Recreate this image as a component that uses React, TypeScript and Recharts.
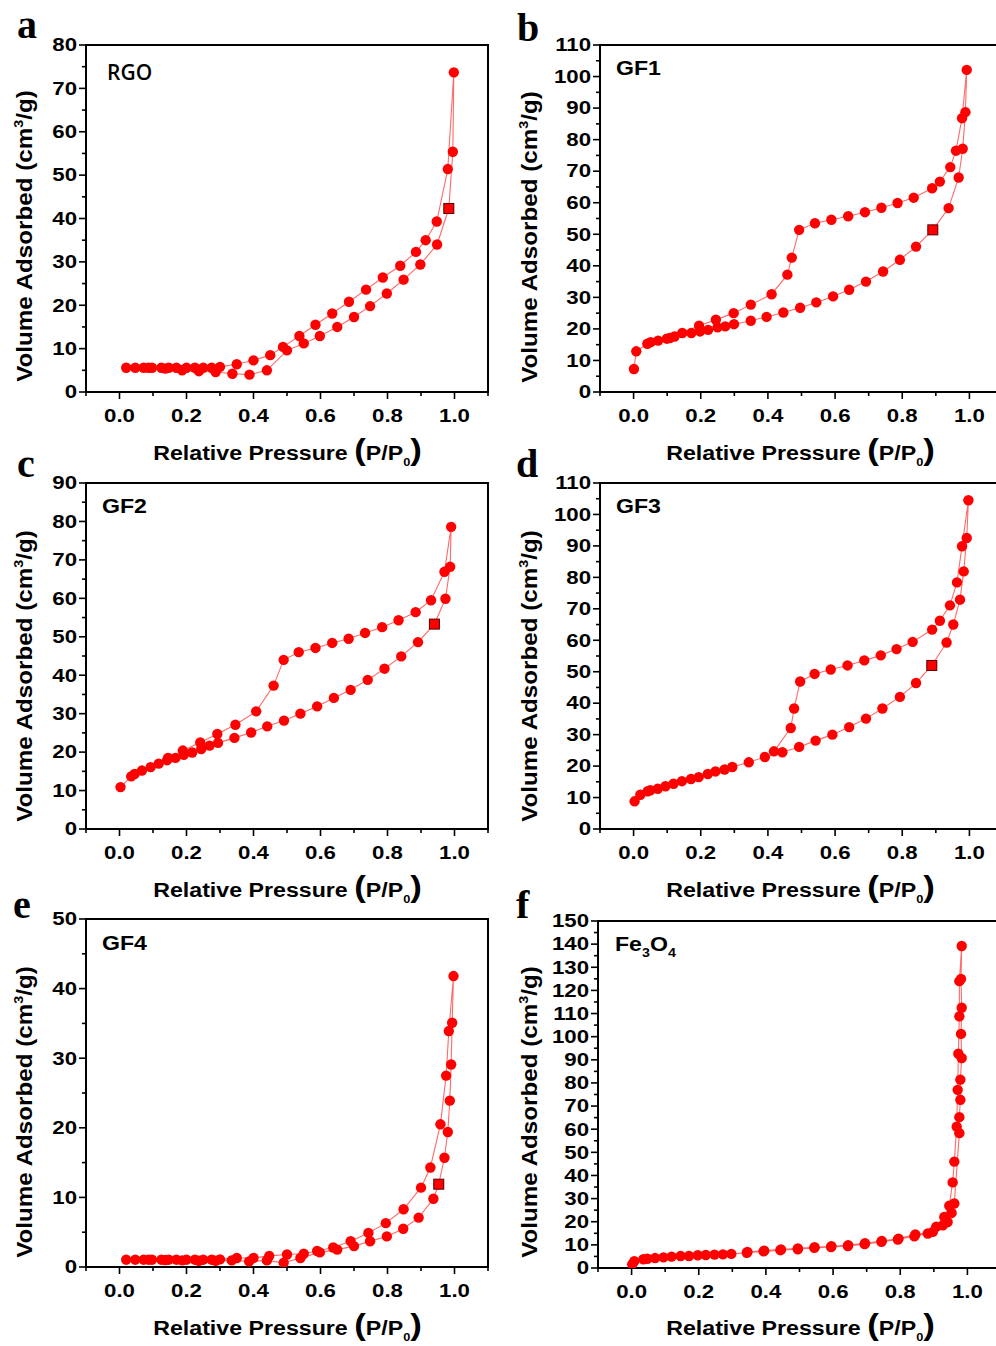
import React from 'react';
import { ScatterChart, Scatter, XAxis, YAxis, ReferenceArea } from 'recharts';

const SANS = '"Liberation Sans", Arial, Helvetica, sans-serif';
const SERIF = '"Liberation Serif", "Times New Roman", serif';
const MARKER = '#ff0000';
const LINE = '#ff6a6a';

type P = [number, number];

// ---------- data: [relative pressure, volume adsorbed] ----------
const rgoAdsorption: P[] = [
  [0.020, 5.6], [0.047, 5.6], [0.072, 5.6], [0.097, 5.6], [0.125, 5.6], [0.147, 5.6], [0.170, 5.6],
  [0.200, 5.6], [0.225, 5.6], [0.250, 5.6], [0.275, 5.6], [0.300, 5.8], [0.350, 6.4], [0.400, 7.3],
  [0.450, 8.5], [0.488, 10.4], [0.537, 12.9], [0.585, 15.5], [0.635, 18.1], [0.685, 20.8], [0.736, 23.6],
  [0.786, 26.4], [0.838, 29.1], [0.885, 32.3], [0.914, 35.0], [0.947, 39.3], [0.980, 51.4], [0.998, 73.7],
];
const rgoDesorption: P[] = [
  [0.995, 55.4], [0.983, 42.3], [0.948, 34.0], [0.898, 29.4], [0.848, 25.9], [0.798, 22.7], [0.748, 19.8],
  [0.700, 17.3], [0.650, 15.0], [0.598, 12.9], [0.550, 11.2], [0.500, 9.6], [0.440, 5.0], [0.388, 4.0],
  [0.337, 4.2], [0.287, 4.6], [0.237, 4.8], [0.187, 5.0], [0.137, 5.4], [0.087, 5.6],
];
const rgoSquare: P[] = [[0.983, 42.3]];

const gf1Adsorption: P[] = [
  [0.001, 7.3], [0.008, 12.9], [0.041, 15.3], [0.051, 15.8], [0.073, 16.3], [0.099, 16.9], [0.122, 17.6],
  [0.145, 18.7], [0.172, 18.7], [0.198, 19.2], [0.222, 19.7], [0.250, 20.5], [0.273, 20.8], [0.299, 21.5],
  [0.349, 22.6], [0.396, 23.8], [0.446, 25.2], [0.496, 26.7], [0.544, 28.4], [0.594, 30.3], [0.642, 32.4],
  [0.692, 35.0], [0.743, 38.2], [0.793, 41.9], [0.841, 46.1], [0.891, 51.4], [0.938, 58.3], [0.968, 68.0],
  [0.980, 77.1], [0.988, 88.7], [0.992, 102.1],
];
const gf1Desorption: P[] = [
  [0.978, 86.8], [0.960, 76.5], [0.943, 71.3], [0.912, 66.7], [0.889, 64.6], [0.834, 61.6], [0.786, 59.9],
  [0.738, 58.4], [0.689, 57.0], [0.639, 55.7], [0.589, 54.6], [0.540, 53.5], [0.493, 51.4], [0.471, 42.6],
  [0.458, 37.2], [0.411, 31.0], [0.349, 27.7], [0.298, 25.0], [0.245, 22.9], [0.195, 21.0], [0.108, 17.1],
];
const gf1Square: P[] = [[0.891, 51.4]];

const gf2Adsorption: P[] = [
  [0.003, 10.9], [0.035, 13.7], [0.045, 14.3], [0.067, 15.2], [0.093, 16.1], [0.117, 17.0], [0.142, 17.9],
  [0.167, 18.5], [0.192, 19.3], [0.217, 19.9], [0.244, 20.8], [0.269, 21.7], [0.294, 22.4], [0.343, 23.7],
  [0.393, 25.1], [0.441, 26.7], [0.491, 28.2], [0.540, 30.0], [0.590, 31.9], [0.640, 34.1], [0.690, 36.2],
  [0.741, 38.8], [0.791, 41.7], [0.841, 44.9], [0.891, 48.6], [0.940, 53.3], [0.973, 59.9], [0.987, 68.2],
  [0.990, 78.6],
];
const gf2Desorption: P[] = [
  [0.970, 66.9], [0.930, 59.5], [0.884, 56.4], [0.833, 54.3], [0.784, 52.5], [0.733, 51.0], [0.684, 49.5],
  [0.635, 48.4], [0.585, 47.1], [0.535, 46.0], [0.490, 44.0], [0.460, 37.3], [0.408, 30.6], [0.346, 27.1],
  [0.292, 24.7], [0.241, 22.5], [0.189, 20.4], [0.145, 18.5],
];
const gf2Square: P[] = [[0.940, 53.3]];

const gf3Adsorption: P[] = [
  [0.003, 8.8], [0.020, 10.9], [0.042, 12.0], [0.050, 12.3], [0.072, 12.8], [0.095, 13.6], [0.119, 14.4],
  [0.144, 15.2], [0.171, 15.9], [0.194, 16.5], [0.221, 17.5], [0.244, 18.3], [0.271, 18.9], [0.294, 19.7],
  [0.343, 21.2], [0.391, 22.9], [0.443, 24.4], [0.493, 26.1], [0.542, 28.1], [0.592, 30.0], [0.642, 32.4],
  [0.692, 35.1], [0.741, 38.3], [0.793, 42.0], [0.841, 46.4], [0.888, 52.0], [0.932, 59.3], [0.952, 65.0],
  [0.972, 72.9], [0.983, 81.9], [0.992, 92.5], [0.997, 104.5],
];
const gf3Desorption: P[] = [
  [0.978, 89.9], [0.963, 78.4], [0.942, 71.1], [0.912, 66.2], [0.889, 63.4], [0.831, 59.5], [0.783, 57.2],
  [0.736, 55.2], [0.687, 53.6], [0.637, 52.0], [0.587, 50.7], [0.539, 49.3], [0.496, 46.9], [0.478, 38.3],
  [0.468, 32.1], [0.418, 24.7],
];
const gf3Square: P[] = [[0.888, 52.0]];

const gf4Adsorption: P[] = [
  [0.020, 1.05], [0.047, 1.05], [0.072, 1.05], [0.097, 1.05], [0.125, 1.05], [0.147, 1.05], [0.170, 1.05],
  [0.200, 1.05], [0.225, 1.05], [0.250, 1.05], [0.275, 1.05], [0.300, 1.1], [0.350, 1.3], [0.400, 1.3],
  [0.447, 1.6], [0.500, 1.8], [0.550, 1.9], [0.590, 2.3], [0.638, 2.8], [0.690, 3.7], [0.743, 4.9],
  [0.795, 6.3], [0.848, 8.3], [0.900, 11.4], [0.928, 14.3], [0.958, 20.5], [0.975, 27.5], [0.983, 33.9],
  [0.997, 41.8],
];
const gf4Desorption: P[] = [
  [0.993, 35.1], [0.990, 29.1], [0.986, 23.9], [0.980, 19.4], [0.970, 15.7], [0.953, 11.9], [0.937, 9.8],
  [0.893, 7.1], [0.847, 5.5], [0.798, 4.4], [0.748, 3.7], [0.700, 3.0], [0.650, 2.5], [0.598, 2.1],
  [0.540, 1.3], [0.490, 0.6], [0.440, 0.95], [0.387, 0.8], [0.335, 0.95], [0.287, 0.9], [0.237, 0.9],
  [0.187, 0.95], [0.137, 1.0], [0.087, 1.05],
];
const gf4Square: P[] = [[0.953, 11.9]];

const fe3o4Adsorption: P[] = [
  [0.002, 1.6], [0.008, 2.9], [0.035, 3.8], [0.047, 4.0], [0.070, 4.3], [0.095, 4.6], [0.119, 4.9],
  [0.146, 5.2], [0.171, 5.2], [0.197, 5.5], [0.221, 5.6], [0.247, 5.8], [0.272, 5.9], [0.297, 6.1],
  [0.343, 6.6], [0.393, 7.2], [0.443, 7.7], [0.495, 8.1], [0.544, 8.7], [0.594, 9.1], [0.644, 9.5],
  [0.694, 10.3], [0.744, 11.3], [0.793, 12.3], [0.842, 13.7], [0.882, 14.9], [0.907, 17.8], [0.931, 22.1],
  [0.946, 26.9], [0.956, 37.0], [0.961, 46.0], [0.968, 61.1], [0.971, 77.0], [0.973, 92.6], [0.976, 108.8],
  [0.976, 124.0], [0.983, 139.2],
];
const fe3o4Desorption: P[] = [
  [0.981, 125.0], [0.983, 112.5], [0.981, 101.2], [0.983, 90.8], [0.979, 81.4], [0.979, 72.7], [0.976, 65.2],
  [0.976, 58.3], [0.961, 27.9], [0.953, 23.8], [0.941, 19.9], [0.927, 18.5], [0.897, 15.6], [0.845, 14.5],
  [0.795, 12.7], [0.745, 11.7], [0.695, 10.7], [0.645, 9.9], [0.595, 9.4], [0.545, 9.0], [0.495, 8.5],
  [0.445, 8.0], [0.395, 7.5], [0.345, 6.9],
];

// ---------- ticks ----------
const xMajor = [0, 0.2, 0.4, 0.6, 0.8, 1.0];
const xMinor = [-0.1, 0.1, 0.3, 0.5, 0.7, 0.9, 1.1];
const xLabels = ['0.0', '0.2', '0.4', '0.6', '0.8', '1.0'];

const yMajor80 = [0, 10, 20, 30, 40, 50, 60, 70, 80];
const yMinor80 = [5, 15, 25, 35, 45, 55, 65, 75];
const yMajor90 = [0, 10, 20, 30, 40, 50, 60, 70, 80, 90];
const yMinor90 = [5, 15, 25, 35, 45, 55, 65, 75, 85];
const yMajor110 = [0, 10, 20, 30, 40, 50, 60, 70, 80, 90, 100, 110];
const yMinor110 = [5, 15, 25, 35, 45, 55, 65, 75, 85, 95, 105];
const yMajor50 = [0, 10, 20, 30, 40, 50];
const yMinor50 = [5, 15, 25, 35, 45];
const yMajor150 = [0, 10, 20, 30, 40, 50, 60, 70, 80, 90, 100, 110, 120, 130, 140, 150];
const yMinor150 = [5, 15, 25, 35, 45, 55, 65, 75, 85, 95, 105, 115, 125, 135, 145];

const TICK_FS = 17.5;
const TICK_SX = 1.27;

const toPts = (a: P[]) => a.map(([x, y]) => ({ x, y }));
const near = (a: number, b: number) => Math.abs(a - b) < 1e-6;

const XTick = (props: any) => {
  const { x, y, payload } = props;
  const idx = xMajor.findIndex((m) => near(m, payload.value));
  const major = idx >= 0;
  return (
    <g>
      <line x1={x} y1={y} x2={x} y2={y + (major ? 7 : 4)} stroke="#000" strokeWidth={1.6} />
      {major && (
        <text transform={`translate(${x},${y + 30}) scale(${TICK_SX},1)`} textAnchor="middle"
          fontFamily={SANS} fontWeight={700} fontSize={TICK_FS} fill="#000">{xLabels[idx]}</text>
      )}
    </g>
  );
};

const makeYTick = (majors: number[]) => (props: any) => {
  const { x, y, payload } = props;
  const major = majors.some((m) => near(m, payload.value));
  return (
    <g>
      <line x1={x - (major ? 7 : 4)} y1={y} x2={x} y2={y} stroke="#000" strokeWidth={1.6} />
      {major && (
        <text transform={`translate(${x - 9},${y + 6.3}) scale(${TICK_SX},1)`} textAnchor="end"
          fontFamily={SANS} fontWeight={700} fontSize={TICK_FS} fill="#000">{String(payload.value)}</text>
      )}
    </g>
  );
};

const Dot = (p: any) => <circle cx={p.cx} cy={p.cy} r={5.2} fill={MARKER} />;
const Sq = (p: any) => (
  <rect x={p.cx - 5} y={p.cy - 5} width={10} height={10} fill={MARKER} stroke="#5a0000" strokeWidth={1} />
);

type Cfg = {
  left: number; plotLeft: number; plotRight: number; plotTop: number; plotBottom: number;
  ymax: number; yMajor: number[]; yMinor: number[]; ads: P[]; des: P[]; sq: P[];
};

const Panel = ({ c }: { c: Cfg }) => {
  const mTop = 10;
  const xH = 42;
  const width = c.plotRight - c.left + 2;
  const height = c.plotBottom - c.plotTop + mTop + xH;
  const yTicks = [...c.yMajor, ...c.yMinor].sort((a, b) => a - b);
  const xTicks = [...xMajor, ...xMinor].sort((a, b) => a - b);
  const YTick = makeYTick(c.yMajor);
  return (
    <div style={{ position: 'absolute', left: c.left, top: c.plotTop - mTop }}>
      <ScatterChart width={width} height={height} margin={{ top: mTop, right: 2, bottom: 0, left: 0 }}>
        <XAxis type="number" dataKey="x" domain={[-0.1, 1.1]} ticks={xTicks} interval={0}
          tick={<XTick />} tickLine={false} tickSize={0} tickMargin={0} height={xH}
          axisLine={{ stroke: '#000', strokeWidth: 2 }} allowDataOverflow />
        <YAxis type="number" dataKey="y" domain={[0, c.ymax]} ticks={yTicks} interval={0}
          tick={<YTick />} tickLine={false} tickSize={0} tickMargin={0} width={c.plotLeft - c.left}
          axisLine={{ stroke: '#000', strokeWidth: 2 }} allowDataOverflow />
        <ReferenceArea x1={-0.1} x2={1.1} y1={0} y2={c.ymax} fill="none" stroke="#000" strokeWidth={2} />
        <Scatter data={toPts([...c.ads, ...c.des])} line={{ stroke: LINE, strokeWidth: 1.1 }} lineType="joint"
          shape={Dot} isAnimationActive={false} />
        {c.sq.length > 0 && <Scatter data={toPts(c.sq)} shape={Sq} isAnimationActive={false} />}
      </ScatterChart>
    </div>
  );
};

const panels: Cfg[] = [
  { left: 0, plotLeft: 86, plotRight: 488, plotTop: 45, plotBottom: 392, ymax: 80, yMajor: yMajor80, yMinor: yMinor80, ads: rgoAdsorption, des: rgoDesorption, sq: rgoSquare },
  { left: 498, plotLeft: 600, plotRight: 1003, plotTop: 45, plotBottom: 392, ymax: 110, yMajor: yMajor110, yMinor: yMinor110, ads: gf1Adsorption, des: gf1Desorption, sq: gf1Square },
  { left: 0, plotLeft: 86, plotRight: 488, plotTop: 483, plotBottom: 829, ymax: 90, yMajor: yMajor90, yMinor: yMinor90, ads: gf2Adsorption, des: gf2Desorption, sq: gf2Square },
  { left: 498, plotLeft: 600, plotRight: 1003, plotTop: 483, plotBottom: 829, ymax: 110, yMajor: yMajor110, yMinor: yMinor110, ads: gf3Adsorption, des: gf3Desorption, sq: gf3Square },
  { left: 0, plotLeft: 86, plotRight: 488, plotTop: 919, plotBottom: 1267, ymax: 50, yMajor: yMajor50, yMinor: yMinor50, ads: gf4Adsorption, des: gf4Desorption, sq: gf4Square },
  { left: 498, plotLeft: 598, plotRight: 1001, plotTop: 921, plotBottom: 1268, ymax: 150, yMajor: yMajor150, yMinor: yMinor150, ads: fe3o4Adsorption, des: fe3o4Desorption, sq: [] },
];

const letters = [
  { t: 'a', x: 17, y: 38 }, { t: 'b', x: 517, y: 41 },
  { t: 'c', x: 17, y: 477 }, { t: 'd', x: 516, y: 477 },
  { t: 'e', x: 13, y: 918 }, { t: 'f', x: 516, y: 918 },
];

const YTitle = ({ x, cy }: { x: number; cy: number }) => (
  <text transform={`translate(${x},${cy}) rotate(-90) scale(1.1,1)`} textAnchor="middle"
    fontFamily={SANS} fontWeight={700} fontSize={22} fill="#000">
    Volume Adsorbed (cm<tspan fontSize={13} dy={-9}>3</tspan><tspan dy={9}>/g)</tspan>
  </text>
);

const XTitle = ({ cx, y }: { cx: number; y: number }) => (
  <text transform={`translate(${cx},${y}) scale(1.16,1)`} textAnchor="middle"
    fontFamily={SANS} fontWeight={700} fontSize={20} fill="#000">
    Relative Pressure <tspan fontSize={30}>(</tspan>P/P<tspan fontSize={11} dy={6}>0</tspan>
    <tspan fontSize={30} dy={-6}>)</tspan>
  </text>
);

const Label = ({ x, y, children, family = SANS, weight = 700, sx = 1.1 }: any) => (
  <text transform={`translate(${x},${y}) scale(${sx},1)`} fontFamily={family} fontWeight={weight}
    fontSize={21} fill="#000">{children}</text>
);

export default function App() {
  return (
    <div style={{ position: 'absolute', left: 0, top: 0, width: 996, height: 1346, overflow: 'hidden', background: '#fff' }}>
      {panels.map((c, i) => <Panel key={i} c={c} />)}
      <svg width={996} height={1346} style={{ position: 'absolute', left: 0, top: 0, pointerEvents: 'none' }}>
        {letters.map((l) => (
          <text key={l.t} x={l.x} y={l.y} fontFamily={SERIF} fontWeight={700} fontSize={40} fill="#000">{l.t}</text>
        ))}
        <YTitle x={32} cy={236} />
        <YTitle x={537} cy={237} />
        <YTitle x={32} cy={676} />
        <YTitle x={537} cy={676} />
        <YTitle x={32} cy={1112} />
        <YTitle x={537} cy={1112} />
        <XTitle cx={287.5} y={460} />
        <XTitle cx={800.5} y={460} />
        <XTitle cx={287.5} y={897} />
        <XTitle cx={800.5} y={897} />
        <XTitle cx={287.5} y={1335} />
        <XTitle cx={800.5} y={1335} />
        <Label x={107} y={80} family={'"Open Sans", sans-serif'} weight={600} sx={1}>RGO</Label>
        <Label x={616} y={75}>GF1</Label>
        <Label x={102} y={513}>GF2</Label>
        <Label x={616} y={513}>GF3</Label>
        <Label x={102} y={950}>GF4</Label>
        <Label x={615} y={951}>Fe<tspan fontSize={13} dy={6}>3</tspan><tspan dy={-6}>O</tspan><tspan fontSize={13} dy={6}>4</tspan></Label>
      </svg>
    </div>
  );
}
